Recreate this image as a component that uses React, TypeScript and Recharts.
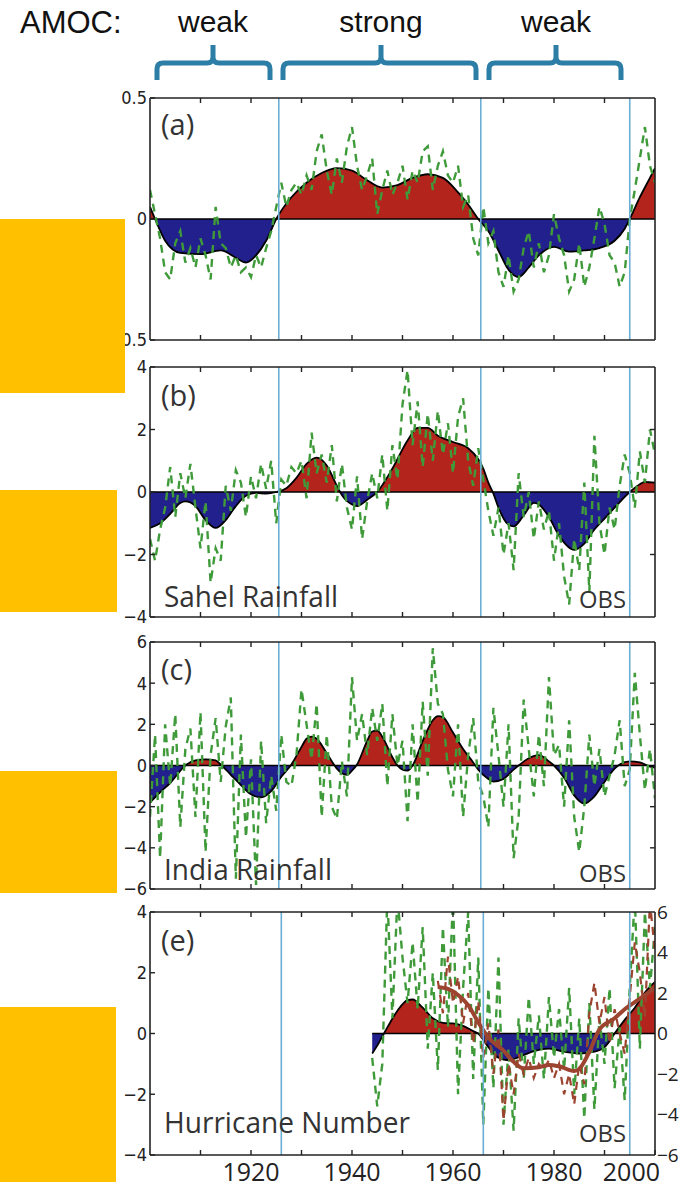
import React from 'react';
import { ComposedChart, Area, Line, XAxis, YAxis, ReferenceLine } from 'recharts';

// annual observations (green dashes), one value per year from the start year
const obsAStart = 1900;
const obsA = [
  0.12, 0.02, -0.08, -0.22, -0.25, -0.1, -0.05, -0.18, -0.12, -0.2,
  -0.08, -0.15, -0.25, 0.05, -0.1, -0.12, -0.2, -0.15, -0.22, -0.2,
  -0.24, -0.15, -0.2, -0.12, -0.05, 0.05, 0.15, 0.05, 0.12, 0.15,
  0.1, 0.18, 0.12, 0.28, 0.35, 0.2, 0.1, 0.25, 0.15, 0.3,
  0.38, 0.22, 0.12, 0.18, 0.25, 0.02, 0.12, 0.2, 0.1, 0.15,
  0.22, 0.08, 0.2, 0.15, 0.28, 0.3, 0.12, 0.22, 0.28, 0.18,
  0.15, 0.22, 0.05, 0.1, -0.08, -0.15, 0.05, -0.1, -0.05, -0.22,
  -0.28, -0.15, -0.3, -0.25, -0.12, -0.05, -0.2, -0.1, -0.22, -0.15,
  0.02, -0.08, -0.15, -0.3, -0.25, -0.1, -0.28, -0.2, -0.08, 0.05,
  -0.02, -0.15, -0.18, -0.28, -0.22, 0.0, 0.12, 0.25, 0.38, 0.22,
  0.15,
];
const obsBStart = 1900;
const obsB = [
  -1.5, -2.2, -1.2, -0.5, 0.8, -0.8, 0.6, -0.2, 0.9, -0.5,
  -1.8, -0.3, -2.9, -1.8, -2.2, 0.2, -0.6, 0.7, 0.3, -0.8,
  0.5, -0.2, 0.9, 0.1, 1.0, -1.0, 0.4, 0.2, 0.8, 0.6,
  1.0, -0.2, 1.9, 0.6, 1.2, 0.3, 1.5, -0.3, 0.9, -0.5,
  -1.2, 0.5, -1.5, -0.3, 0.6, -0.2, 1.2, -0.6, 1.5, 0.4,
  2.8, 3.9, 1.5, 2.9, 0.8, 2.5, 1.0, 2.6, 1.2, 2.2,
  0.6, 2.4, 3.0, 1.0, 0.2, 1.4, 0.4, -0.6, -1.4, -0.5,
  -2.0, -1.0, -2.5, 0.6, -0.8, 0.0, -1.5, -0.3, -1.2, -0.6,
  -2.2, -1.0, -2.7, -3.6, -1.5, -2.5, 0.3, -3.2, 1.8, -1.0,
  -2.0, -0.5, -1.2, 0.2, 1.2, 0.6, -0.5, 1.3, 0.3, 2.0,
  1.2,
];
const obsCStart = 1900;
const obsC = [
  -2.5, 1.5, -4.5, 2.0, -1.0, 2.5, -3.0, 0.8, 1.8, -2.5,
  2.6, -4.2, 0.5, 2.3, -0.8, 1.9, 3.3, -5.5, 1.5, -3.5,
  0.3, -5.8, 1.2, -2.8, -0.5, -2.2, 1.5, -0.8, -1.0, 0.5,
  3.7, 2.0, 0.3, 3.0, -2.5, 1.5, -2.0, -2.6, 0.2, -1.5,
  4.3, 1.2, 2.5, 0.5, 2.8, 1.2, 3.0, -1.0, 2.5, 0.0,
  1.2, -2.7, 2.0, -1.8, 3.1, -0.5, 5.7, 3.0, 2.5, -0.2,
  -1.5, 2.0, -2.5, 0.5, 2.3, -0.8, -1.5, -3.0, 2.8, 0.5,
  -2.0, 2.0, -4.5, -2.5, 3.2, 0.8, -1.5, 1.5, -1.0, 4.3,
  0.5, 1.0, -2.0, 2.2, -2.5, -4.2, -2.0, 1.5, -1.0, 0.8,
  -1.5, -0.5, 0.5, 2.2, -1.0, -0.2, 4.5, 1.5, -1.2, 0.8,
  -1.6,
];
const obsEStart = 1944;
const obsE = [
  -0.8, -2.4, -1.0, 4.5, 0.5, 4.5, 2.5, 1.0, 3.0, 0.8,
  3.5, -0.5, 2.0, -1.2, 3.5, 0.2, 4.5, -2.0, 1.5, 4.0,
  -1.5, 2.5, -3.0, 1.5, -1.8, 2.5, -3.0, -0.5, -3.2, 0.5,
  -1.5, 1.2, -1.0, 0.6, -1.5, 1.2, -0.8, 0.8, -1.2, 1.5,
  -2.0, 0.5, -2.8, 1.0, -2.5, 0.5, -1.0, 1.5, -1.8, 0.2,
  -2.2, 1.5, 4.5, -0.5, 4.0, 1.5, 3.5,
];
// hurricane count (brown, right axis)
const brownObsStart = 1957;
const brownObs = [
  2.6, 1.0, 3.8, 1.5, 2.8, 0.5, 2.0, -0.5, 1.6, -1.2,
  0.5, -2.0, 0.2, -4.3, -1.5, -3.0, -1.0, -2.0, -1.2, -2.2,
  -1.5, -1.8, -1.3, -2.2, -1.5, -3.0, -2.0, -3.5, -1.5, -2.5,
  1.0, 2.5, 0.5, 1.8, -0.5, 1.2, 0.0, -1.0, 1.8, 4.5,
  3.0, 0.8, 6.5, 4.0,
];

// smoothed curves as [year, value]
const smoothA: [number, number][] = [
  [1900, 0.05], [1901, 0.0], [1903, -0.09], [1906, -0.14], [1910, -0.145], [1914, -0.13],
  [1917, -0.16], [1919, -0.18], [1921, -0.15], [1923, -0.09], [1925, 0], [1928, 0.09],
  [1931, 0.15], [1934, 0.19], [1937, 0.21], [1940, 0.2], [1943, 0.16], [1946, 0.13],
  [1949, 0.14], [1952, 0.17], [1955, 0.185], [1958, 0.17], [1961, 0.11], [1963, 0.06],
  [1965, 0], [1967, -0.05], [1969, -0.13], [1971, -0.21], [1973, -0.24], [1975, -0.2],
  [1977, -0.15], [1980, -0.115], [1983, -0.135], [1986, -0.13], [1989, -0.12], [1992, -0.09],
  [1994, -0.04], [1995, 0], [1997, 0.09], [1999, 0.17], [2000, 0.21],
];
const smoothB: [number, number][] = [
  [1900, -1.15], [1902, -1.0], [1904, -0.7], [1906, -0.35], [1907, -0.3], [1909, -0.45],
  [1911, -0.9], [1913, -1.15], [1915, -0.9], [1917, -0.45], [1919, -0.12], [1921, -0.03],
  [1923, -0.05], [1925, 0], [1927, 0.12], [1929, 0.45], [1931, 0.9], [1933, 1.1],
  [1935, 0.85], [1937, 0.2], [1938, -0.1], [1940, -0.4], [1941, -0.45], [1943, -0.25],
  [1945, 0], [1948, 0.75], [1951, 1.65], [1953, 2.05], [1955, 2.05], [1957, 1.8],
  [1960, 1.6], [1963, 1.4], [1965, 1.05], [1966, 0.75], [1967, 0.3], [1968, -0.05],
  [1969, -0.5], [1971, -1.05], [1972, -1.1], [1974, -0.75], [1976, -0.35], [1977, -0.4],
  [1979, -0.8], [1981, -1.4], [1984, -1.85], [1986, -1.65], [1988, -1.2], [1990, -0.85],
  [1992, -0.5], [1995, 0], [1997, 0.25], [1998, 0.32], [2000, 0.3],
];
const smoothC: [number, number][] = [
  [1900, -1.8], [1902, -1.3], [1904, -0.85], [1907, 0], [1909, 0.25], [1911, 0.3],
  [1913, 0.25], [1914, 0.05], [1916, -0.45], [1918, -0.95], [1920, -1.4], [1922, -1.55],
  [1924, -1.25], [1926, -0.55], [1928, 0.05], [1930, 0.9], [1931, 1.3], [1932, 1.4],
  [1933, 1.3], [1935, 0.6], [1937, -0.15], [1938, -0.38], [1939, -0.45], [1940, -0.25],
  [1941, 0.05], [1943, 1.2], [1944, 1.65], [1945, 1.7], [1946, 1.4], [1948, 0.4],
  [1949, 0], [1950, -0.2], [1951, -0.25], [1952, 0], [1954, 1.2], [1956, 2.2],
  [1957, 2.4], [1958, 2.35], [1960, 1.6], [1962, 0.8], [1964, 0.15], [1965, -0.2],
  [1967, -0.65], [1968, -0.78], [1970, -0.65], [1972, -0.2], [1973, 0], [1975, 0.35],
  [1977, 0.5], [1979, 0.2], [1980, 0], [1982, -0.6], [1984, -1.45], [1986, -1.85],
  [1988, -1.5], [1990, -0.8], [1992, -0.15], [1993, 0.05], [1995, 0.2], [1997, 0.15],
  [1999, -0.05], [2000, -0.1],
];
const smoothE: [number, number][] = [
  [1944, -0.66], [1945, -0.4], [1946, -0.1], [1947, 0.2], [1949, 0.75], [1951, 1.1],
  [1952, 1.12], [1954, 0.85], [1956, 0.5], [1958, 0.35], [1960, 0.33], [1962, 0.25],
  [1964, 0.08], [1965, 0], [1967, -0.45], [1969, -0.8], [1971, -0.88], [1973, -0.78],
  [1976, -0.58], [1979, -0.5], [1982, -0.6], [1985, -0.66], [1988, -0.6], [1990, -0.45],
  [1991, -0.25], [1992, 0], [1994, 0.45], [1996, 0.85], [1998, 1.35], [2000, 1.7],
];
const brownSmooth: [number, number][] = [
  [1957, 2.3], [1959, 2.2], [1961, 1.9], [1963, 1.4], [1965, 0.55], [1967, -0.2],
  [1970, -0.85], [1972, -1.4], [1974, -1.72], [1977, -1.67], [1979, -1.55], [1981, -1.62],
  [1984, -1.85], [1985, -1.75], [1987, -0.9], [1989, 0.2], [1992, 0.75], [1994, 1.2],
  [1996, 1.55], [1998, 1.9], [2000, 2.25],
];

const DECADES = [1910, 1920, 1930, 1940, 1950, 1960, 1970, 1980, 1990];
const YEAR_LABELS = [1920, 1940, 1960, 1980, 2000];
const AMOC_PHASES = ['weak', 'strong', 'weak'];

const RED = '#b3241c';
const BLUE = '#22208c';
const GREEN = '#3f9b3a';
const BROWN = '#9c4430';
const VLINE = '#6aaed6';
const AXIS = '#222';
const NARROW = "'Liberation Sans Narrow', 'DejaVu Sans Condensed', 'Open Sans', sans-serif";
const SANS = "'Open Sans', 'Noto Sans', sans-serif";
const ARIAL = "'Liberation Sans', Arial, sans-serif";

type Row = { year: number; obs?: number | null; smooth?: number | null; bObs?: number | null; bSmooth?: number | null };

function buildRows(obsStart: number, obs: number[], smooth: [number, number][], bStart?: number, bObs?: number[], bSmooth?: [number, number][]) {
  const map = new Map<number, Row>();
  const row = (y: number) => {
    if (!map.has(y)) map.set(y, { year: y, obs: null, smooth: null, bObs: null, bSmooth: null });
    return map.get(y)!;
  };
  obs.forEach((v, i) => { row(obsStart + i).obs = v; });
  smooth.forEach(([y, v]) => { row(y).smooth = v; });
  if (bObs && bStart) bObs.forEach((v, i) => { row(bStart + i).bObs = v; });
  if (bSmooth) bSmooth.forEach(([y, v]) => { row(y).bSmooth = v; });
  return [...map.values()].sort((a, b) => a.year - b.year);
}

const fmt = (v: number) => (v < 0 ? '\u2212' + Math.abs(v) : String(v));
const NoTick = () => <g />;

const YearTick = (props: any) => {
  const { x, y, payload } = props;
  const v = payload.value;
  if (!YEAR_LABELS.includes(v)) return <g />;
  const end = v === 2000;
  return (
    <text x={end ? x + 5 : x} y={y + 26} textAnchor={end ? 'end' : 'middle'} fontSize={25} fontFamily={SANS} fill="#222">
      {v}
    </text>
  );
};

type PanelCfg = {
  id: string;
  plotTop: number;
  plotHeight: number;
  domain: [number, number];
  ticks: number[];
  rightTicks: number[];
  rows: Row[];
  smooth: [number, number][];
  vlines: number[];
  zeroFrom?: number;
  xLabels?: boolean;
  brown?: boolean;
};

function Panel({ cfg }: { cfg: PanelCfg }) {
  const { id, plotTop, plotHeight, domain, ticks, rightTicks, rows, smooth, vlines, zeroFrom, xLabels, brown } = cfg;
  const vals = smooth.map((d) => d[1]);
  const mx = Math.max(0, ...vals);
  const mn = Math.min(0, ...vals);
  const off = mx / (mx - mn);
  const bottomH = xLabels ? 34 : 2;
  const bottomM = xLabels ? 0 : 8;
  const height = 14 + plotHeight + bottomH + bottomM;
  const rightDomain: [number, number] = brown ? [-6, 6] : domain;
  return (
    <div style={{ position: 'absolute', left: 0, top: plotTop - 14 }}>
      <ComposedChart width={680} height={height} data={rows} margin={{ top: 12, right: 0, bottom: bottomM, left: 0 }}>
        <defs>
          <linearGradient id={`fill-${id}`} x1="0" y1="0" x2="0" y2="1">
            <stop offset={0} stopColor={RED} />
            <stop offset={off} stopColor={RED} />
            <stop offset={off} stopColor={BLUE} />
            <stop offset={1} stopColor={BLUE} />
          </linearGradient>
        </defs>
        <XAxis
          xAxisId="b"
          dataKey="year"
          type="number"
          domain={[1900, 2000]}
          allowDataOverflow
          ticks={xLabels ? [...DECADES, 2000] : DECADES}
          interval={0}
          orientation="bottom"
          height={bottomH}
          tickSize={-5}
          tickMargin={5}
          tick={xLabels ? YearTick : NoTick}
          axisLine={{ stroke: AXIS, strokeWidth: 1.6 }}
          tickLine={{ stroke: AXIS, strokeWidth: 1.4 }}
        />
        <XAxis
          xAxisId="t"
          dataKey="year"
          type="number"
          domain={[1900, 2000]}
          allowDataOverflow
          ticks={DECADES}
          interval={0}
          orientation="top"
          height={2}
          tickSize={-5}
          tick={NoTick}
          axisLine={{ stroke: AXIS, strokeWidth: 1.6 }}
          tickLine={{ stroke: AXIS, strokeWidth: 1.4 }}
        />
        <YAxis
          yAxisId="l"
          type="number"
          domain={domain}
          allowDataOverflow
          ticks={ticks}
          interval={0}
          width={150}
          tickSize={-5}
          tickMargin={8}
          tickFormatter={fmt}
          tick={{ fontSize: 18, fill: '#222', fontFamily: NARROW }}
          axisLine={{ stroke: AXIS, strokeWidth: 1.6 }}
          tickLine={{ stroke: AXIS, strokeWidth: 1.4 }}
        />
        <YAxis
          yAxisId="r"
          orientation="right"
          type="number"
          domain={rightDomain}
          allowDataOverflow
          ticks={rightTicks}
          interval={0}
          width={25}
          tickSize={brown ? 0 : -5}
          tickMargin={brown ? 2 : 5}
          tickFormatter={fmt}
          tick={brown ? { fontSize: 19, fill: '#222', fontFamily: SANS } : NoTick}
          axisLine={{ stroke: AXIS, strokeWidth: 1.6 }}
          tickLine={{ stroke: AXIS, strokeWidth: 1.4 }}
        />
        <Area
          xAxisId="b"
          yAxisId="l"
          type="monotone"
          dataKey="smooth"
          baseValue={0}
          connectNulls
          stroke="#000"
          strokeWidth={1.8}
          fill={`url(#fill-${id})`}
          fillOpacity={1}
          dot={false}
          activeDot={false}
          isAnimationActive={false}
        />
        {zeroFrom !== undefined ? (
          <ReferenceLine xAxisId="b" yAxisId="l" segment={[{ x: zeroFrom, y: 0 }, { x: 2000, y: 0 }]} stroke="#000" strokeWidth={1.6} />
        ) : (
          <ReferenceLine xAxisId="b" yAxisId="l" y={0} stroke="#000" strokeWidth={1.6} />
        )}
        <Line
          xAxisId="b"
          yAxisId="l"
          type="linear"
          dataKey="obs"
          stroke={GREEN}
          strokeWidth={2.4}
          strokeDasharray="8 6"
          dot={false}
          activeDot={false}
          isAnimationActive={false}
        />
        {brown && (
          <Line
            xAxisId="b"
            yAxisId="r"
            type="linear"
            dataKey="bObs"
            stroke={BROWN}
            strokeWidth={2.2}
            strokeDasharray="8 6"
            dot={false}
            activeDot={false}
            isAnimationActive={false}
          />
        )}
        {brown && (
          <Line
            xAxisId="b"
            yAxisId="r"
            type="monotone"
            dataKey="bSmooth"
            connectNulls
            stroke={BROWN}
            strokeWidth={4}
            dot={false}
            activeDot={false}
            isAnimationActive={false}
          />
        )}
        {vlines.map((x) => (
          <ReferenceLine key={x} xAxisId="b" yAxisId="l" x={x} stroke={VLINE} strokeWidth={1.6} />
        ))}
      </ComposedChart>
    </div>
  );
}

const VL = [1925.5, 1965.5, 1995];

const panels: PanelCfg[] = [
  {
    id: 'a', plotTop: 98, plotHeight: 242, domain: [-0.5, 0.5], ticks: [0.5, 0, -0.5], rightTicks: [],
    rows: buildRows(obsAStart, obsA, smoothA), smooth: smoothA, vlines: VL,
  },
  {
    id: 'b', plotTop: 367, plotHeight: 250, domain: [-4, 4], ticks: [4, 2, 0, -2, -4], rightTicks: [2, -2],
    rows: buildRows(obsBStart, obsB, smoothB), smooth: smoothB, vlines: VL,
  },
  {
    id: 'c', plotTop: 642, plotHeight: 247, domain: [-6, 6], ticks: [6, 4, 2, 0, -2, -4, -6], rightTicks: [4, 2, -2, -4],
    rows: buildRows(obsCStart, obsC, smoothC), smooth: smoothC, vlines: VL,
  },
  {
    id: 'e', plotTop: 912, plotHeight: 243, domain: [-4, 4], ticks: [4, 2, 0, -2, -4], rightTicks: [6, 4, 2, 0, -2, -4, -6],
    rows: buildRows(obsEStart, obsE, smoothE, brownObsStart, brownObs, brownSmooth), smooth: smoothE,
    vlines: [1926, 1966, 1995], zeroFrom: 1944, xLabels: true, brown: true,
  },
];

function bracket(x1: number, x2: number, cx: number) {
  const yb = 63, ye = 80, yt = 45, r = 6;
  return `M${x1},${ye} L${x1},${yb + r} Q${x1},${yb} ${x1 + r},${yb} L${cx - r},${yb} Q${cx},${yb} ${cx},${yb - r} L${cx},${yt} M${cx},${yb - r} Q${cx},${yb} ${cx + r},${yb} L${x2 - r},${yb} Q${x2},${yb} ${x2},${yb + r} L${x2},${ye}`;
}

const BRACKETS: [number, number, number][] = [[157, 270, 213], [283, 476, 381], [489, 621, 556]];

const LABELS = [
  { t: '(a)', y: 135 },
  { t: '(b)', y: 406 },
  { t: '(c)', y: 680 },
  { t: '(e)', y: 951 },
];
const NAMES = [
  { t: 'Sahel Rainfall', y: 607, w: 174 },
  { t: 'India Rainfall', y: 880, w: 168 },
  { t: 'Hurricane Number', y: 1133, w: 246 },
];
const OBS_Y = [608, 882, 1142];
const BOXES = [
  { y: 219, h: 174, w: 125 },
  { y: 490, h: 122, w: 117 },
  { y: 771, h: 122, w: 117 },
  { y: 1007, h: 175, w: 116 },
];

export default function App() {
  return (
    <div style={{ position: 'absolute', left: 0, top: 0, width: 680, height: 1189, background: '#fff', overflow: 'hidden' }}>
      {panels.map((p) => (
        <Panel key={p.id} cfg={p} />
      ))}
      <svg width={680} height={1189} style={{ position: 'absolute', left: 0, top: 0, pointerEvents: 'none' }}>
        <text x={20} y={33} fontSize={31} fontFamily={ARIAL} fill="#111">AMOC:</text>
        {AMOC_PHASES.map((t, i) => (
          <text key={i} x={BRACKETS[i][2]} y={32} textAnchor="middle" fontSize={30} fontFamily={ARIAL} fill="#111">
            {t}
          </text>
        ))}
        {BRACKETS.map(([a, b, c], i) => (
          <path key={i} d={bracket(a, b, c)} fill="none" stroke="#2d7ea6" strokeWidth={5} />
        ))}
        {LABELS.map((l) => (
          <text key={l.t} x={161} y={l.y} fontSize={29} fontFamily={SANS} fill="#333">{l.t}</text>
        ))}
        {NAMES.map((n) => (
          <text key={n.t} x={164} y={n.y} fontSize={29} fontFamily={SANS} fill="#333" textLength={n.w} lengthAdjust="spacingAndGlyphs">
            {n.t}
          </text>
        ))}
        {OBS_Y.map((y) => (
          <text key={y} x={579} y={y} fontSize={23} fontFamily={SANS} fill="#333" textLength={47} lengthAdjust="spacingAndGlyphs">OBS</text>
        ))}
        {BOXES.map((b, i) => (
          <rect key={i} x={0} y={b.y} width={b.w} height={b.h} fill="#ffc000" />
        ))}
      </svg>
    </div>
  );
}
